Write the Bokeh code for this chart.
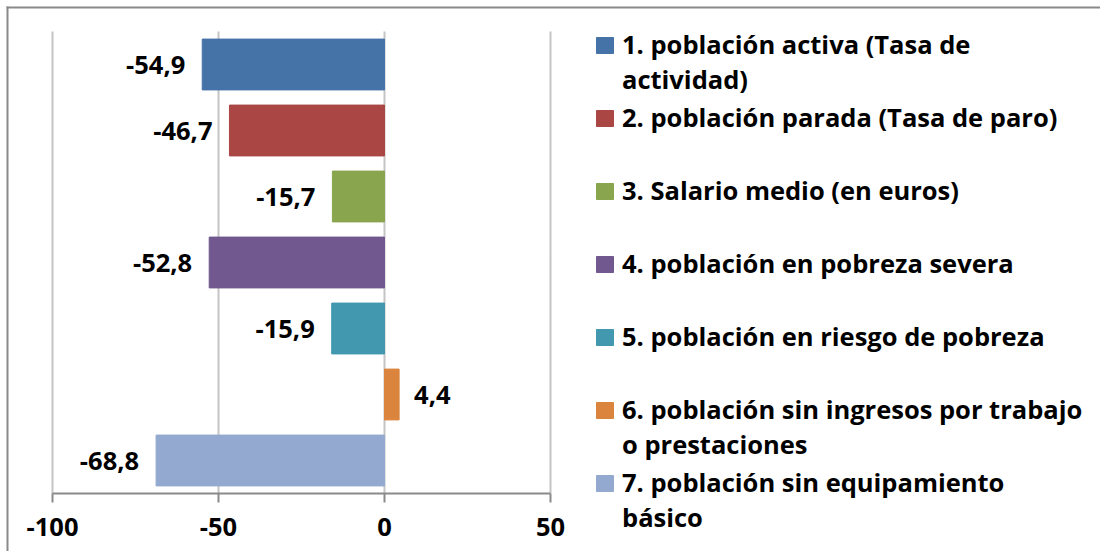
from bokeh.plotting import figure
from bokeh.models import Range1d, ColumnDataSource, FixedTicker, Label, BoxAnnotation
from bokeh.core.properties import value
from bokeh.embed import file_html
from bokeh.resources import INLINE

labels = [
    "1. población activa (Tasa de\nactividad)",
    "2. población parada (Tasa de paro)",
    "3. Salario medio (en euros)",
    "4. población en pobreza severa",
    "5. población en riesgo de pobreza",
    "6. población sin ingresos por trabajo\no prestaciones",
    "7. población sin equipamiento\nbásico",
]
values = [-54.9, -46.7, -15.7, -52.8, -15.9, 4.4, -68.8]
colors = ["#4572A7", "#AA4643", "#89A54E", "#71588F", "#4198AF", "#DB843D", "#93A9CF"]
x_ticks = [-100, -50, 0, 50]

FONT = "Open Sans"
FS = "25.5px"
n = len(values)
ys = list(range(1, n + 1))
texts = [f"{v:.1f}".replace(".", ",") for v in values]

src = ColumnDataSource(dict(y=ys, v=values, c=colors, t=texts))
neg = ColumnDataSource(dict(y=[y for y, v in zip(ys, values) if v < 0],
                            v=[v for v in values if v < 0],
                            t=[t for t, v in zip(texts, values) if v < 0]))
pos = ColumnDataSource(dict(y=[y for y, v in zip(ys, values) if v >= 0],
                            v=[v for v in values if v >= 0],
                            t=[t for t, v in zip(texts, values) if v >= 0]))

# canvas geometry (pixels)
W, H = 1100, 551
PX_L, PX_R = 52, 550        # pixel positions of x = -100 and x = 50
PY_T, PY_B = 31, 493        # pixel positions of category band top/bottom
xs_per_px = (max(x_ticks) - min(x_ticks)) / (PX_R - PX_L)
x_start = min(x_ticks) - PX_L * xs_per_px
x_end = max(x_ticks) + (W - PX_R) * xs_per_px
cat_px = (PY_B - PY_T) / n
y_top = 0.5 - PY_T / cat_px
y_bot = n + 0.5 + (H - PY_B) / cat_px

p = figure(width=W, height=H, x_range=Range1d(x_start, x_end), y_range=Range1d(y_bot, y_top),
           output_backend="svg", toolbar_location=None, y_axis_location=None,
           min_border=0)
p.outline_line_color = None
p.hbar(y="y", left=0, right="v", height=0.77, fill_color="c", line_color="c", source=src)

p.text(x="v", y="y", text="t", source=neg, text_align="right", text_baseline="middle",
       x_offset=-17, text_font=value(FONT), text_font_style="bold", text_font_size=FS,
       text_color="black")
p.text(x="v", y="y", text="t", source=pos, text_align="left", text_baseline="middle",
       x_offset=15, text_font=value(FONT), text_font_style="bold", text_font_size=FS,
       text_color="black")

ax = p.xaxis[0]
ax.fixed_location = n + 0.5
ax.ticker = FixedTicker(ticks=x_ticks)
ax.bounds = (min(x_ticks), max(x_ticks))
ax.major_label_overrides = {t: str(t) for t in x_ticks}
ax.minor_tick_line_color = None
ax.major_tick_in = 0
ax.major_tick_out = 9
ax.major_tick_line_color = "#8a8a8a"
ax.major_tick_line_width = 2
ax.axis_line_color = "#8a8a8a"
ax.axis_line_width = 2
ax.major_label_standoff = 15
ax.major_label_text_font = FONT
ax.major_label_text_font_style = "bold"
ax.major_label_text_font_size = FS
ax.major_label_text_color = "black"

g = p.xgrid[0]
g.ticker = FixedTicker(ticks=x_ticks)
g.grid_line_color = "#c4c4c4"
g.grid_line_width = 2
g.cross_bounds = (0.5, n + 0.5)
p.ygrid.visible = False

# legend drawn in pixel-like extra ranges
p.extra_x_ranges = {"lx": Range1d(0, W)}
p.extra_y_ranges = {"ly": Range1d(H, 0)}
ly = [45 + 73 * i for i in range(n)]
lsrc = ColumnDataSource(dict(y=ly, c=colors))
p.rect(x=604.5, y="y", width=17, height=16, fill_color="c", line_color="c", source=lsrc,
       x_range_name="lx", y_range_name="ly")
for i, lab in enumerate(labels):
    for j, line in enumerate(lab.split("\n")):
        p.add_layout(Label(x=621.5, y=ly[i] - 2 + 35 * j, x_range_name="lx", y_range_name="ly",
                           text=line, text_baseline="alphabetic", text_align="left",
                           text_font=FONT, text_font_style="bold", text_font_size=FS,
                           text_color="black"))

# chart border: only its left and top edges are inside the picture
BORDER = "#898989"
p.add_layout(BoxAnnotation(left=6, right=8, top=6, bottom=H + 50,
                           x_range_name="lx", y_range_name="ly",
                           fill_color=BORDER, fill_alpha=1.0, line_color=None,
                           level="overlay"))
p.add_layout(BoxAnnotation(left=6, right=W + 50, top=6, bottom=8,
                           x_range_name="lx", y_range_name="ly",
                           fill_color=BORDER, fill_alpha=1.0, line_color=None,
                           level="overlay"))

open("out.html", "w").write(file_html(p, INLINE))
